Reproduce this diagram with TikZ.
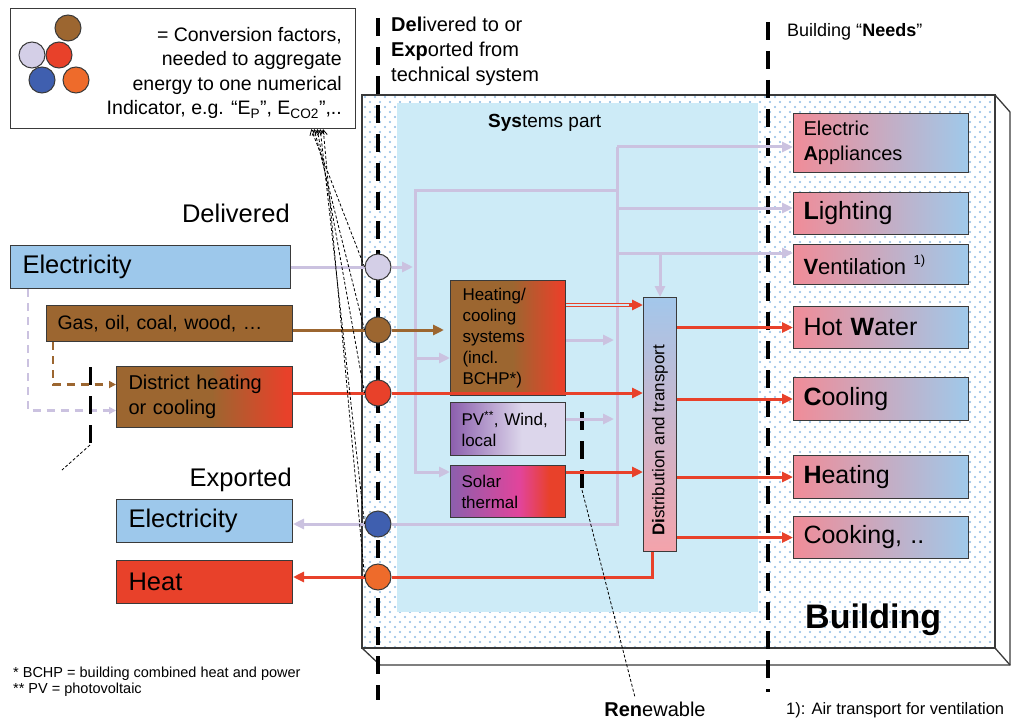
\documentclass[tikz,border=0pt]{standalone}
\usepackage{fontspec}
\setmainfont{Liberation Sans}
\usetikzlibrary{arrows.meta,patterns.meta,calc}

\definecolor{edgegray}{HTML}{3A3A3A}
\definecolor{elecblue}{HTML}{9DC8EB}
\definecolor{fuelbrown}{HTML}{9C6630}
\definecolor{hotred}{HTML}{E8412A}
\definecolor{sysblue}{HTML}{CDEBF7}
\definecolor{dotblue}{HTML}{8DBCE4}
\definecolor{lavline}{HTML}{CBC2E0}
\definecolor{lavdot}{HTML}{D4CFE7}
\definecolor{expblue}{HTML}{3F5FAF}
\definecolor{exporange}{HTML}{EE6B2B}
\definecolor{needpink}{HTML}{F08C98}
\definecolor{needblue}{HTML}{9FC9EA}
\definecolor{pvpurple}{HTML}{8C5FAD}
\definecolor{pvpale}{HTML}{DCD6EB}
\definecolor{solpink}{HTML}{E2449B}
\definecolor{dtblue}{HTML}{A3C7EB}
\definecolor{dtpink}{HTML}{F4A3AB}

\pgfdeclarehorizontalshading{brownred}{100bp}{color(0bp)=(fuelbrown); color(25bp)=(fuelbrown); color(52bp)=(fuelbrown); color(73bp)=(hotred); color(100bp)=(hotred)}
\pgfdeclarehorizontalshading{pvshade}{100bp}{color(0bp)=(pvpurple); color(25bp)=(pvpurple); color(56bp)=(pvpale); color(100bp)=(pvpale)}
\pgfdeclarehorizontalshading{solshade}{100bp}{color(0bp)=(pvpurple); color(25bp)=(pvpurple); color(55bp)=(solpink); color(68bp)=(hotred); color(100bp)=(hotred)}

\pgfdeclarelayer{building}
\pgfdeclarelayer{bounds}
\pgfsetlayers{building,bounds,main}

\begin{document}
\begin{tikzpicture}[x=1pt, y=-1pt,
  ebox/.style={draw=edgegray, line width=1pt, anchor=north west, inner ysep=0pt, align=left},
  conv/.style={circle, draw=edgegray, line width=1pt, minimum size=26pt, inner sep=0pt},
  lbl/.style={inner sep=0pt},
  elec/.style={draw=lavline, line width=3pt},
  fuel/.style={draw=fuelbrown, line width=3pt},
  heatl/.style={draw=hotred, line width=3pt},
  arr/.style={-{Triangle[length=11pt,width=10pt]}},
  smallarr/.style={-{Triangle[length=7pt,width=7pt]}},
  bound/.style={draw=black, line width=3.6pt, dash pattern=on 18pt off 11pt},
  hint/.style={draw=black, line width=0.8pt, dash pattern=on 3pt off 2pt},
  needbox/.style={ebox, left color=needpink, right color=needblue, text width=155pt, inner xsep=10pt},
  edge3d/.style={draw=edgegray, line width=1.3pt}
]
\useasboundingbox (0,0) rectangle (1016,722);

% ---------- building block with its dotted envelope ----------
\begin{pgfonlayer}{building}
  \fill[white] (362,95) rectangle (995,648);
  \fill[pattern={Dots[distance=10pt,radius=1.2pt]}, pattern color=dotblue] (362,95) rectangle (995,648);
  \fill[pattern={Dots[distance=10pt,radius=1.2pt,xshift=5pt,yshift=5pt]}, pattern color=dotblue] (362,95) rectangle (995,648);
  \fill[sysblue] (397,103) rectangle (758,612);
  \draw[edge3d] (362,95) rectangle (995,648);
  \draw[edge3d] (995,95) -- (1010,112) -- (1010,665) -- (380,665) -- (362,648);
  \draw[edge3d] (995,648) -- (1010,665);
\end{pgfonlayer}

% ---------- system boundaries ----------
\begin{pgfonlayer}{bounds}
  \coordinate (b1top) at (378,18);
  \coordinate (b1bot) at (378,700);
  \coordinate (b2top) at (768,22);
  \coordinate (b2bot) at (768,692);
  \draw[bound] (b1top) -- (b1bot);
  \draw[bound] (b2top) -- (b2bot);
  \coordinate (renA) at (582,412);
  \coordinate (renB) at (582,490);
  \draw[bound] (renA) -- (renB);
\end{pgfonlayer}

% ---------- legend ----------
\node[draw=edgegray, line width=1.2pt, fill=white, minimum width=345pt, minimum height=120pt, inner sep=0pt, anchor=north west] (legend) at (10,8) {};
\node[conv, fill=fuelbrown] (lgB) at (68,28) {};
\node[conv, fill=lavdot] (lgL) at (32,55) {};
\node[conv, fill=hotred] (lgR) at (59,55) {};
\node[conv, fill=expblue] (lgBl) at (42,80) {};
\node[conv, fill=exporange] (lgO) at (76,80) {};
\begin{scope}[every node/.style={lbl, anchor=base east, font=\fontsize{19.5}{24}\selectfont}]
  \node (lg1) at (342,42) {= Conversion factors,};
  \node (lg2) at (342,66) {needed to aggregate};
  \node (lg3) at (342,91) {energy to one numerical};
  \node (lg4) at (342,115) {Indicator, e.g. “E\textsubscript{P}”, E\textsubscript{CO2}”,..};
\end{scope}

% ---------- delivered / exported carriers ----------
\node[ebox, fill=elecblue, text width=256pt, inner xsep=12pt, minimum height=43pt, font=\fontsize{25.5}{30}\selectfont] (eD) at (10,245) {Electricity};
\node[ebox, fill=fuelbrown, text width=224pt, inner xsep=11pt, minimum height=36pt, font=\fontsize{19.5}{24}\selectfont] (gas) at (46,305) {Gas, oil, coal, wood, …};
\node[ebox, shading=brownred, text width=152pt, inner xsep=12pt, minimum height=61pt, font=\fontsize{20}{25}\selectfont] (dh) at (116,366) {District heating\\or cooling};
\node[ebox, fill=elecblue, text width=152pt, inner xsep=12pt, minimum height=43pt, font=\fontsize{25.5}{30}\selectfont] (eE) at (116,499) {Electricity};
\node[ebox, fill=hotred, text width=152pt, inner xsep=12pt, minimum height=43pt, font=\fontsize{25.5}{30}\selectfont] (heat) at (116,560) {Heat};

% ---------- technical systems ----------
\node[ebox, shading=brownred, text width=91pt, inner xsep=12pt, minimum height=115pt, font=\fontsize{17}{21}\selectfont] (hc) at (450,280) {Heating/\\cooling\\systems\\(incl.\\BCHP*)};
\node[ebox, shading=pvshade, text width=93pt, inner xsep=11pt, minimum height=53pt, font=\fontsize{17}{21}\selectfont] (pv) at (450,402) {PV\textsuperscript{**}, Wind,\\local};
\node[ebox, shading=solshade, text width=93pt, inner xsep=11pt, minimum height=52pt, font=\fontsize{17}{21}\selectfont] (st) at (450,465) {Solar\\thermal};
\node[draw=edgegray, line width=1pt, top color=dtblue, bottom color=dtpink, minimum width=33pt, minimum height=254pt, inner sep=0pt, anchor=north west] (dt) at (643,297) {};
\node[lbl, rotate=90, font=\fontsize{17}{20}\selectfont] (dtlbl) at ([yshift=-16pt]dt.center) {\textbf{Di}stribution and transport};

% ---------- building needs ----------
\node[needbox, minimum height=59pt, font=\fontsize{20}{25}\selectfont] (ea) at (793,113) {Electric\\\textbf{A}ppliances};
\node[needbox, minimum height=42pt, font=\fontsize{25}{30}\selectfont] (li) at (793,192) {\textbf{L}ighting};
\node[needbox, minimum height=40pt, font=\fontsize{22}{26}\selectfont] (ve) at (793,244) {\textbf{V}entilation \raisebox{0.45em}{\fontsize{13}{14}\selectfont 1)}};
\node[needbox, minimum height=42pt, font=\fontsize{25}{30}\selectfont] (hw) at (793,306) {Hot \textbf{W}ater};
\node[needbox, minimum height=43pt, font=\fontsize{25}{30}\selectfont] (co) at (793,377) {\textbf{C}ooling};
\node[needbox, minimum height=43pt, font=\fontsize{25}{30}\selectfont] (he) at (793,455) {\textbf{H}eating};
\node[needbox, minimum height=42pt, font=\fontsize{25}{30}\selectfont] (ck) at (793,516) {Cooking, ..};

% ---------- conversion points on the boundary ----------
\node[conv, fill=lavdot] (cL) at (378,267) {};
\node[conv, fill=fuelbrown] (cB) at (378,330) {};
\node[conv, fill=hotred] (cR) at (378,393) {};
\node[conv, fill=expblue] (cBl) at (378,524) {};
\node[conv, fill=exporange] (cO) at (378,577) {};

% ---------- electricity network ----------
\coordinate (eTop) at (415,190);
\coordinate (eBus) at (617,190);
\coordinate (eBusTop) at (617,147);
\coordinate (eLi) at (617,208);
\coordinate (eVe) at (617,253);
\coordinate (eVeDrop) at (660,253);
\coordinate (eBusBot) at (617,524);
\coordinate (eLeftBot) at (415,472);
\coordinate (hcIn) at (415,358);
\coordinate (hcOut) at (614,340);
\coordinate (pvOut) at (614,419);

\draw[elec] (eD.east |- cL) -- (cL);
\draw[elec, arr, shorten >=2pt] (cL) -- (eTop |- cL);
\draw[elec, arr] (eBus) -- (eTop) -- (eLeftBot) -- (st.west |- eLeftBot);
\draw[elec, arr] (hcIn) -- (hc.west |- hcIn);
\draw[elec] (eBusTop) -- (eBusBot) -- (cBl);
\draw[elec, arr] (cBl) -- (eE.east |- cBl);
\draw[elec, arr] (eBusTop) -- (ea.west |- eBusTop);
\draw[elec, arr] (eLi) -- (li.west |- eLi);
\draw[elec, arr] (eVe) -- (ve.west |- eVe);
\draw[elec, arr] (eVe) -- (eVeDrop) -- (eVeDrop |- dt.north);
\draw[elec, arr] (hc.east |- hcOut) -- (hcOut);
\draw[elec, arr] (pv.east |- pvOut) -- (pvOut);

% ---------- fuels and heat ----------
\draw[fuel] (gas.east |- cB) -- (cB);
\draw[fuel, arr, shorten >=6pt] (cB) -- (hc.west |- cB);
\draw[heatl] (dh.east |- cR) -- (cR);
\draw[heatl, arr] (cR) -- (dt.west |- cR);
\coordinate (hcHot) at (632,305);
\draw[draw=hotred, line width=1.2pt, double=sysblue, double distance=1.3pt] (hc.east |- hcHot) -- (hcHot);
\draw[heatl, arr] ([xshift=-3pt]hcHot) -- (dt.west |- hcHot);
\draw[heatl, arr] (st.east |- eLeftBot) -- (dt.west |- eLeftBot);
\draw[heatl, arr] (dt.east |- hw) -- (hw.west);
\draw[heatl, arr] (dt.east |- co) -- (co.west);
\draw[heatl, arr] (dt.east |- he) -- (he.west);
\draw[heatl, arr] (dt.east |- ck) -- (ck.west);
\coordinate (dtDown) at (652,577);
\draw[heatl] (dtDown |- dt.south) -- (dtDown) -- (cO);
\draw[heatl, arr] (cO) -- (heat.east |- cO);

% ---------- supply of district heating ----------
\draw[fuel, line width=2.5pt, dash pattern=on 8pt off 6pt, smallarr] ([xshift=7pt]gas.south west) |- ([yshift=12.5pt]dh.west);
\draw[elec, line width=2.5pt, dash pattern=on 8pt off 6pt, smallarr] ([xshift=18pt]eD.south west) |- ([yshift=-13.5pt]dh.west);
\coordinate (dA) at (90,367);
\coordinate (dB) at (90,445);
\coordinate (dC) at (62,470);
\draw[bound, line width=3pt] (dA) -- (dB);
\draw[hint] (dB) -- (dC);

% ---------- links to the conversion factors ----------
\foreach \c/\s in {cL/-45, cB/-42, cR/-39, cBl/-36, cO/-33}
  \draw[hint, -{Straight Barb[length=5pt,width=7pt]}] (\c.west) -- ([xshift=\s pt]legend.south east);

% ---------- labels ----------
\node[lbl, anchor=base east, font=\fontsize{25.5}{30}\selectfont] (delLbl) at (290,222) {Delivered};
\node[lbl, anchor=base east, font=\fontsize{25.5}{30}\selectfont] (expLbl) at (292,486) {Exported};
\begin{scope}[every node/.style={lbl, anchor=base west, font=\fontsize{20}{24}\selectfont}]
  \node (hd1) at (391,32) {\textbf{Del}ivered to or};
  \node (hd2) at (391,57) {\textbf{Exp}orted from};
  \node (hd3) at (391,82) {technical system};
\end{scope}
\node[lbl, anchor=base west, font=\fontsize{18}{22}\selectfont] (needsLbl) at (787,37) {Building “\textbf{Needs}”};
\node[lbl, anchor=base west, font=\fontsize{19}{22}\selectfont] (sysLbl) at (488,128) {\textbf{Sys}tems part};
\node[lbl, anchor=base west, font=\fontsize{34}{40}\selectfont\bfseries] (bldLbl) at (805,628) {Building};
\node[lbl, anchor=base, font=\fontsize{20}{24}\selectfont] (ren) at (655,716) {\textbf{Ren}ewable};
\draw[hint] (renB) -- ([xshift=-20pt,yshift=4pt]ren.north);
\node[lbl, anchor=base west, font=\fontsize{14.5}{17}\selectfont] (fn1) at (13,677) {* BCHP = building combined heat and power};
\node[lbl, anchor=base west, font=\fontsize{14.5}{17}\selectfont] (fn2) at (13,693) {** PV = photovoltaic};
\node[lbl, anchor=base west, font=\fontsize{16.5}{20}\selectfont] (fn3) at (786,714) {1): Air transport for ventilation};
\end{tikzpicture}
\end{document}
